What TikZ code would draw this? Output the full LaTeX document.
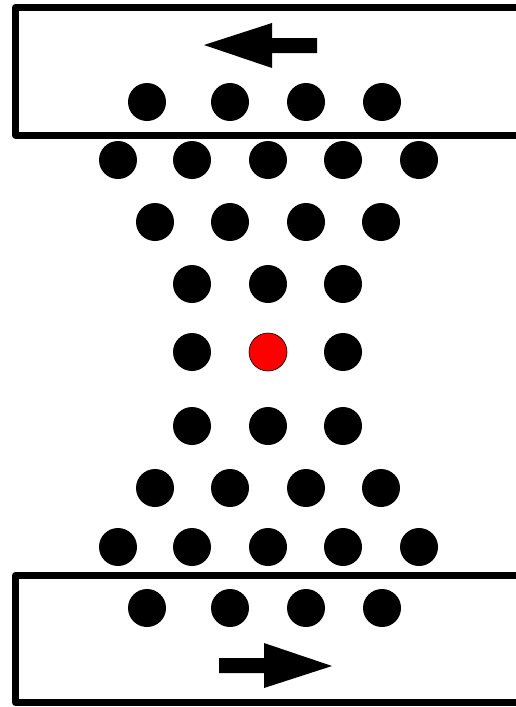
\documentclass[tikz,border=0pt]{standalone}
\usepackage{tikz}
\usetikzlibrary{positioning}

\tikzset{
  ball/.style={circle, fill=black, minimum size=38pt, inner sep=0pt},
  tracer/.style={circle, fill=red, draw=black, line width=0.6pt, minimum size=38pt, inner sep=0pt},
  plate/.style={line width=7pt, line join=round},
}

\begin{document}
\begin{tikzpicture}[x=1pt, y=-1pt]
            \useasboundingbox (0,0) rectangle (515,707);

            % walls
            \coordinate (tr1) at (520,7.5);
            \coordinate (tl1) at (15.5,7.5);
            \coordinate (tl2) at (15.5,135);
            \coordinate (tr2) at (520,135);
            \coordinate (br1) at (520,575.5);
            \coordinate (bl1) at (15.5,575.5);
            \coordinate (bl2) at (15.5,702.5);
            \coordinate (br2) at (520,702.5);

            \draw[plate] (tr1)--(tl1)--(tl2)--(tr2);
            \draw[plate] (br1)--(bl1)--(bl2)--(br2);

            % shear arrows
            \fill (204,45)--(272,23)--(272,38)--(317,38)--(317,53)--(272,53)--(272,68)--cycle;
            \fill (332,666)--(264,643)--(264,658)--(219,658)--(219,673)--(264,673)--(264,688)--cycle;

            % particles
            \foreach \x [count=\i] in {147,230,306,382}
                \node[ball] (a\i) at (\x,102) {};
            \foreach \x [count=\i] in {118,192,268,343,419}
                \node[ball] (b\i) at (\x,160) {};
            \foreach \x [count=\i] in {155,230,306,381}
                \node[ball] (c\i) at (\x,222) {};
            \foreach \x [count=\i] in {192,268,343}
                \node[ball] (d\i) at (\x,284) {};
            \node[ball] (e1) at (192,352) {};
            \node[tracer] (e2) at (268,352) {};
            \node[ball] (e3) at (343,352) {};
            \foreach \x [count=\i] in {192,268,343}
                \node[ball] (f\i) at (\x,426) {};
            \foreach \x [count=\i] in {155,230,306,381}
                \node[ball] (g\i) at (\x,488) {};
            \foreach \x [count=\i] in {118,192,268,343,419}
                \node[ball] (h\i) at (\x,547) {};
            \foreach \x [count=\i] in {147,230,306,382}
                \node[ball] (k\i) at (\x,608) {};
        \end{tikzpicture}
\end{document}
